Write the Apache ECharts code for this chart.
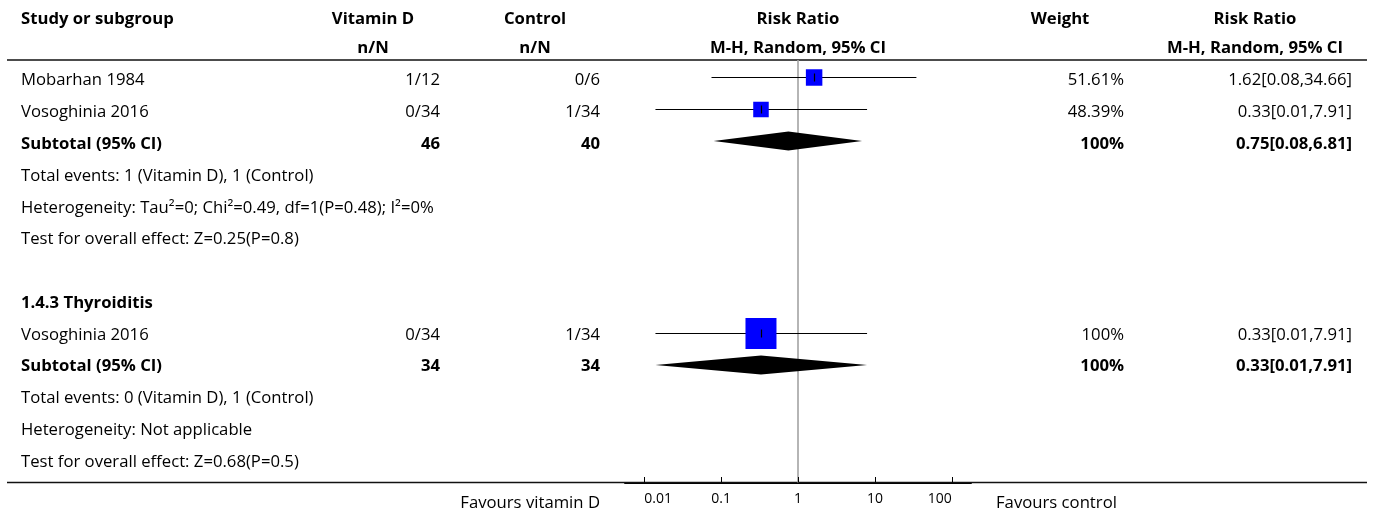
<!DOCTYPE html>
<html><head><meta charset="utf-8">
<script src="https://cdn.jsdelivr.net/npm/echarts@6/dist/echarts.min.js"></script>
<style>html,body{margin:0;padding:0;background:#fff}#chart{width:1375px;height:513px}</style>
</head><body><div id="chart"></div>
<script>
// ---------------- DATA ----------------
const rowLabels = [
  "Mobarhan 1984",
  "Vosoghinia 2016",
  "Subtotal (95% CI)",
  "Total events: 1 (Vitamin D), 1 (Control)",
  "Heterogeneity: Tau\u00b2=0; Chi\u00b2=0.49, df=1(P=0.48); I\u00b2=0%",
  "Test for overall effect: Z=0.25(P=0.8)",
  "",
  "1.4.3 Thyroiditis",
  "Vosoghinia 2016",
  "Subtotal (95% CI)",
  "Total events: 0 (Vitamin D), 1 (Control)",
  "Heterogeneity: Not applicable",
  "Test for overall effect: Z=0.68(P=0.5)"
];
const rowKinds = ["study","study","subtotal","note","note","note","blank","group","study","subtotal","note","note","note"];
const vitaminD = ["1/12","0/34","46","","","","","","0/34","34","","",""];
const control  = ["0/6","1/34","40","","","","","","1/34","34","","",""];
const weightText = ["51.61%","48.39%","100%","","","","","","100%","100%","","",""];
const rrText = ["1.62[0.08,34.66]","0.33[0.01,7.91]","0.75[0.08,6.81]","","","","","","0.33[0.01,7.91]","0.33[0.01,7.91]","","",""];

// plotted study estimates (row index, RR, CI low, CI high, weight %)
const studyRows   = [0, 1, 8];
const studyRR     = [1.62, 0.33, 0.33];
const studyLow    = [0.075, 0.014, 0.014];
const studyHigh   = [34.66, 7.91, 7.91];
const studyWeight = [51.61, 48.39, 100];

// pooled (diamond) estimates
const poolRows = [2, 9];
const poolRR   = [0.75, 0.33];
const poolLow  = [0.08, 0.014];
const poolHigh = [6.81, 7.91];

// header texts
const headerTop    = ["Study or subgroup","Vitamin D","Control","Risk Ratio","Weight","Risk Ratio"];
const headerBottom = ["","n/N","n/N","M-H, Random, 95% CI","","M-H, Random, 95% CI"];

// axis ticks
const tickValues = [0.01, 0.1, 1, 10, 100];
const tickLabels = ["0.01","0.1","1","10","100"];
const favoursLeft = "Favours vitamin D";
const favoursRight = "Favours control";

// ---------------- LAYOUT ----------------
const FONT = "'Open Sans', sans-serif";
const FS = 16.7;
// text rows (grid 0) and plot rows (grid 1)
const T_MIN = -0.651, T_MAX = 12.643;
const P_MIN = -0.53, P_MAX = 12.67;
const HEAD1 = -1.938, HEAD2 = -1.007, FOOT = 13.31;
const colStudy = 21, colVit = 440, colCtl = 600, colW = 1124, colRR = 1352;
const favLeftX = 600, favRightX = 996;
const headCenters = [21, 373, 535, 798, 1060, 1255];
const headAligns = ["left","center","center","center","center","center"];
const lineL = 7, lineR = 1367;

const tableData = [];
function pushText(x, row, text, bold, align) { if (text) tableData.push([x, row, text, bold ? 1 : 0, align]); }
headerTop.forEach((t, i) => pushText(headCenters[i], HEAD1, t, true, headAligns[i]));
headerBottom.forEach((t, i) => pushText(headCenters[i], HEAD2, t, true, headAligns[i]));
rowLabels.forEach((t, r) => {
  const b = rowKinds[r] === "subtotal" || rowKinds[r] === "group";
  pushText(colStudy, r, t, b, "left");
  pushText(colVit, r, vitaminD[r], b, "right");
  pushText(colCtl, r, control[r], b, "right");
  pushText(colW, r, weightText[r], b, "right");
  pushText(colRR, r, rrText[r], b, "right");
});
pushText(favLeftX, FOOT, favoursLeft, false, "right");
pushText(favRightX, FOOT, favoursRight, false, "left");

const studyData = studyRows.map((r, i) => [studyRR[i], r, studyLow[i], studyHigh[i], studyWeight[i]]);
const poolData = poolRows.map((r, i) => [poolRR[i], r, poolLow[i], poolHigh[i]]);
const tickData = tickValues.map((v, i) => [v, P_MAX]);

const chart = echarts.init(document.getElementById('chart'), null, {renderer: 'canvas'});
const option = {
  animation: false,
  backgroundColor: '#fff',
  grid: [
    {left: 0, right: 0, top: 60, bottom: 30.5},
    {left: 625, right: 404, top: 60, bottom: 30.5}
  ],
  xAxis: [
    {gridIndex: 0, type: 'value', min: 0, max: 1375, show: false},
    {gridIndex: 1, type: 'log', logBase: 10, min: Math.pow(10, -2.25), max: Math.pow(10, 2.25),
     axisLine: {show: true, onZero: false, lineStyle: {color: '#000', width: 2}},
     axisTick: {show: false}, axisLabel: {show: false}, splitLine: {show: false}}
  ],
  yAxis: [
    {gridIndex: 0, type: 'value', inverse: true, min: T_MIN, max: T_MAX, show: false},
    {gridIndex: 1, type: 'value', inverse: true, min: P_MIN, max: P_MAX, show: false}
  ],
  series: [
    // table rules
    {
      type: 'custom', xAxisIndex: 0, yAxisIndex: 0, silent: true, z: 1,
      data: [[T_MIN], [T_MAX]],
      renderItem: function (params, api) {
        const a = api.coord([lineL, api.value(0)]);
        const b = api.coord([lineR, api.value(0)]);
        return {type: 'line', shape: {x1: a[0], y1: a[1], x2: b[0], y2: b[1]},
                style: {stroke: '#111', lineWidth: 1.3}};
      }
    },
    // table text
    {
      type: 'custom', xAxisIndex: 0, yAxisIndex: 0, silent: true, z: 5,
      data: tableData,
      renderItem: function (params, api) {
        const d = tableData[params.dataIndex];
        const p = api.coord([d[0], d[1]]);
        return {type: 'text', x: p[0], y: p[1],
                style: {text: d[2], fill: '#000', align: d[4], verticalAlign: 'middle',
                        font: (d[3] ? 'bold ' : '') + FS + 'px ' + FONT}};
      }
    },
    // no-effect line
    {
      type: 'custom', xAxisIndex: 1, yAxisIndex: 1, silent: true, z: 2,
      data: [[1]],
      renderItem: function (params, api) {
        const a = api.coord([api.value(0), P_MIN]);
        const b = api.coord([api.value(0), P_MAX]);
        return {type: 'line', shape: {x1: a[0], y1: a[1], x2: b[0], y2: b[1]},
                style: {stroke: '#a3a3a3', lineWidth: 1.6}};
      }
    },
    // studies
    {
      type: 'custom', xAxisIndex: 1, yAxisIndex: 1, silent: true, z: 4,
      data: studyData,
      renderItem: function (params, api) {
        const c = api.coord([api.value(0), api.value(1)]);
        const lo = api.coord([api.value(2), api.value(1)]);
        const hi = api.coord([api.value(3), api.value(1)]);
        const s = 1 + 0.3 * api.value(4);
        const y = Math.round(c[1]) + 0.5;
        return {type: 'group', children: [
          {type: 'line', shape: {x1: lo[0], y1: y, x2: hi[0], y2: y}, style: {stroke: '#000', lineWidth: 1.2}},
          {type: 'rect', shape: {x: c[0] - s / 2, y: y - s / 2, width: s, height: s}, style: {fill: '#0000ff'}},
          {type: 'line', shape: {x1: Math.round(c[0]) + 0.5, y1: y - 4, x2: Math.round(c[0]) + 0.5, y2: y + 4}, style: {stroke: '#000', lineWidth: 1.2}}
        ]};
      }
    },
    // pooled diamonds
    {
      type: 'custom', xAxisIndex: 1, yAxisIndex: 1, silent: true, z: 4,
      data: poolData,
      renderItem: function (params, api) {
        const c = api.coord([api.value(0), api.value(1)]);
        const lo = api.coord([api.value(2), api.value(1)]);
        const hi = api.coord([api.value(3), api.value(1)]);
        const h = 9.5;
        return {type: 'polygon', shape: {points: [[lo[0], c[1]], [c[0], c[1] - h], [hi[0], c[1]], [c[0], c[1] + h]]},
                style: {fill: '#000'}};
      }
    },
    // axis ticks and labels
    {
      type: 'custom', xAxisIndex: 1, yAxisIndex: 1, silent: true, z: 6,
      data: tickData,
      renderItem: function (params, api) {
        const p = api.coord([api.value(0), P_MAX]);
        const i = params.dataIndex;
        const al = i === 0 ? 'left' : (i === tickData.length - 1 ? 'right' : 'center');
        return {type: 'group', children: [
          {type: 'line', shape: {x1: Math.round(p[0]) + 0.5, y1: p[1], x2: Math.round(p[0]) + 0.5, y2: p[1] - 5.5}, style: {stroke: '#000', lineWidth: 1}},
          {type: 'text', x: p[0], y: p[1] + 16.8,
           style: {text: tickLabels[i], fill: '#000', align: al, verticalAlign: 'middle',
                   font: '14px ' + FONT}}
        ]};
      }
    }
  ]
};
chart.setOption(option);
</script></body></html>
